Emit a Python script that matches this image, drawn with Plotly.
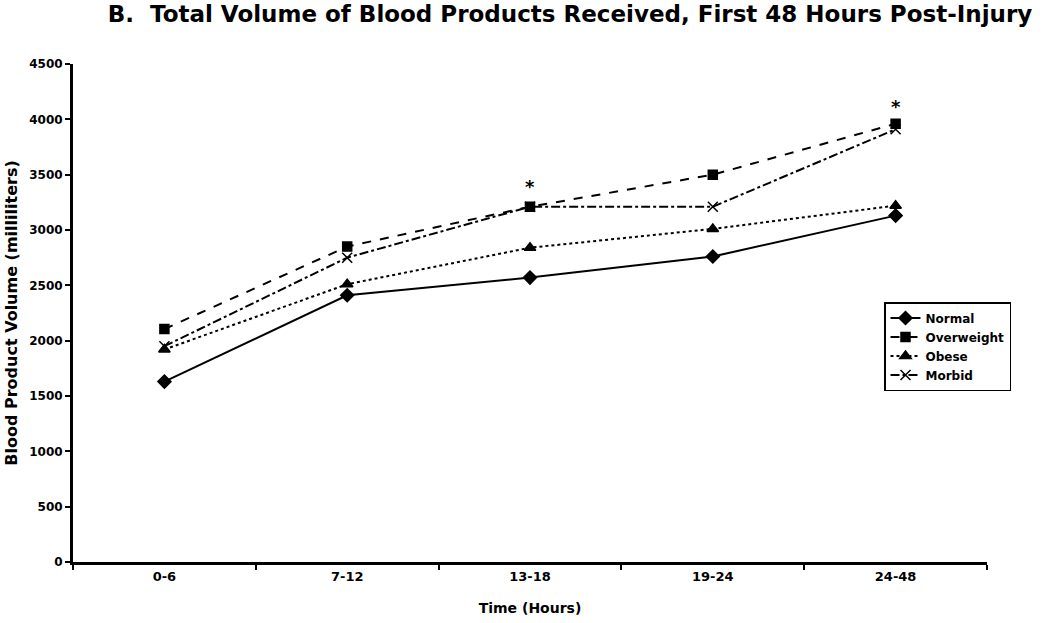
import plotly.graph_objects as go

categories = ["0-6", "7-12", "13-18", "19-24", "24-48"]
normal = [1630, 2410, 2570, 2760, 3130]
overweight = [2105, 2850, 3210, 3500, 3960]
obese = [1920, 2510, 2840, 3010, 3220]
morbid = [1950, 2750, 3210, 3210, 3910]
star_categories = ["13-18", "24-48"]
star_values = [3390, 4120]

FONT = "DejaVu Sans, Arial, sans-serif"

fig = go.Figure()
series = [
    ("Normal", normal, "solid", "diamond", 10),
    ("Overweight", overweight, "dash", "square", 9),
    ("Obese", obese, "dot", "triangle-up", 10),
    ("Morbid", morbid, "dashdot", "x-thin", 10),
]
for name, vals, dash, sym, size in series:
    fig.add_trace(go.Scatter(
        x=categories, y=vals, name=name, mode="lines+markers",
        line=dict(color="black", width=2, dash=dash),
        marker=dict(symbol=sym, size=size, color="black",
                    line=dict(color="black", width=1.5)),
    ))

for c, v in zip(star_categories, star_values):
    fig.add_annotation(x=c, y=v, text="*", showarrow=False,
                       font=dict(family=FONT, size=18, color="black", weight="bold"))

fig.update_layout(
    width=1050, height=623,
    margin=dict(l=73, r=63, t=64, b=61, autoexpand=False),
    paper_bgcolor="white", plot_bgcolor="white",
    font=dict(family=FONT, color="black"),
    title=dict(text="B.  Total Volume of Blood Products Received, First 48 Hours Post-Injury",
               x=570/1050, xanchor="center", y=1-14/623, yanchor="middle",
               font=dict(family=FONT, size=23, color="black", weight="bold")),
    legend=dict(x=(884-73)/914, xanchor="left", y=(562-302)/498, yanchor="top",
                bordercolor="black", borderwidth=1.5, bgcolor="white",
                font=dict(family=FONT, size=12, color="black", weight="bold"),
                tracegroupgap=0),
    showlegend=True,
)

fig.update_xaxes(
    type="category", range=[-0.5, 4.5], tickson="boundaries",
    showline=True, linecolor="black", linewidth=3,
    ticks="outside", ticklen=5, tickcolor="black", tickwidth=2,
    showgrid=False, zeroline=False,
    tickfont=dict(family=FONT, size=13, color="black", weight="bold"),
    title=dict(text="Time (Hours)", standoff=21,
               font=dict(family=FONT, size=14, color="black", weight="bold")),
)
fig.update_yaxes(
    range=[0, 4500], dtick=500,
    showline=True, linecolor="black", linewidth=3,
    ticks="outside", ticklen=5, tickcolor="black", tickwidth=2,
    showgrid=False, zeroline=False,
    tickfont=dict(family=FONT, size=12, color="black", weight="bold"),
    title=dict(text="Blood Product Volume (milliliters)", standoff=8,
               font=dict(family=FONT, size=16, color="black", weight="bold")),
)

# remove the page's default 8px body margin so the figure fills the window exactly
fig.write_html("out.html", config={"displayModeBar": False},
               post_script="document.body.style.margin='0';")
